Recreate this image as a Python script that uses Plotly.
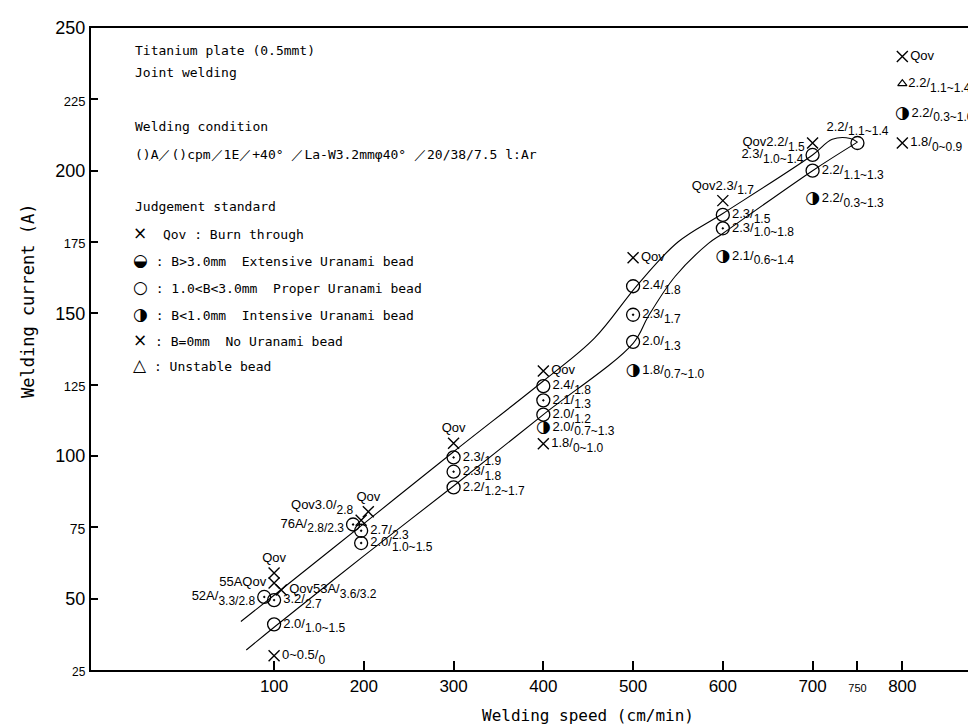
import plotly.graph_objects as go

# ---------------- data ----------------
# boundary curves (welding speed cm/min, welding current A)
upper_x = [63, 100, 200, 300, 400, 457, 505, 550, 600, 700, 722, 742, 750]
upper_y = [42, 51.2, 76.3, 101.5, 126.3, 141.3, 160, 175, 185, 205.5, 211, 211.3, 210]
lower_x = [69, 100, 200, 300, 400, 500, 517, 547, 584, 600, 700, 750]
lower_y = [32, 40, 65, 89.5, 114.5, 139.5, 149, 163, 174.5, 178, 200, 210]

# proper bead (circle with centre dot)
dot_x = [89, 100, 188, 197, 197, 300, 300, 400, 500, 600]
dot_y = [50.6, 49.5, 76, 73.8, 69.5, 99.5, 94.5, 119.5, 149.5, 179.8]
dot_lab = ["52A/3.3/2.8", "3.2/2.7", "76A/2.8/2.3", "2.7/2.3", "2.0/1.0~1.5",
           "2.3/1.9", "2.3/1.8", "2.1/1.3", "2.3/1.7", "2.3/1.0~1.8"]
dot_pos = ["middle left", "middle right", "middle left", "middle right", "middle right",
           "middle right", "middle right", "middle right", "middle right", "middle right"]

# proper bead (plain circle)
circ_x = [100, 300, 400, 400, 500, 500, 600, 700, 700, 750]
circ_y = [41, 89, 124.5, 114.5, 159.5, 140, 184.5, 205.5, 200, 209.7]
circ_lab = ["2.0/1.0~1.5", "2.2/1.2~1.7", "2.4/1.8", "2.0/1.2", "2.4/1.8",
            "2.0/1.3", "2.3/1.5", "2.3/1.0~1.4", "2.2/1.1~1.3", "2.2/1.1~1.4"]
circ_pos = ["middle right", "middle right", "middle right", "middle right", "middle right",
            "middle right", "middle right", "middle left", "middle right", "top center"]

# intensive bead (half filled)
half_x = [400, 500, 600, 700, 800]
half_y = [110, 130, 170, 190, 220]
half_lab = ["2.0/0.7~1.3", "1.8/0.7~1.0", "2.1/0.6~1.4", "2.2/0.3~1.3", "2.2/0.3~1.0"]

# burn through / no bead (X)
x_x = [100, 100, 100, 108, 197, 205, 300, 400, 400, 500, 600, 700, 800, 800]
x_y = [30, 59, 55.5, 53, 77.5, 80.5, 104.5, 129.8, 104.3, 169.5, 189.5, 209.7, 240, 209.7]
x_lab = ["0~0.5/0", "Qov", "55AQov", "Qov53A/3.6/3.2", "Qov3.0/2.8", "Qov", "Qov", "Qov",
         "1.8/0~1.0", "Qov", "Qov2.3/1.7", "Qov2.2/1.5", "Qov", "1.8/0~0.9"]
x_pos = ["middle right", "top center", "middle left", "middle right", "top left", "top center",
         "top center", "middle right", "middle right", "middle right", "top center",
         "middle left", "middle right", "middle right"]

# unstable bead
tri_x = [800]
tri_y = [230.5]
tri_lab = ["2.2/1.1~1.4"]

x_ticks = [100, 200, 300, 400, 500, 600, 700, 750, 800]
x_ticktext = ["100", "200", "300", "400", "500", "600", "700",
              "<span style='font-size:11px'>750</span>", "800"]
y_ticks = [25, 50, 75, 100, 125, 150, 175, 200, 225, 250]
y_ticktext = ["<span style='font-size:12px'>25</span>", "50", "<span style='font-size:14px'>75</span>", "100",
              "<span style='font-size:13px'>125</span>", "150", "<span style='font-size:13px'>175</span>",
              "200", "<span style='font-size:13px'>225</span>", "250"]

info_lines = ["Titanium plate (0.5mmt)", "Joint welding", "Welding condition",
              "()A／()cpm／1E／+40° ／La-W3.2mmφ40° ／20/38/7.5 l:Ar",
              "Judgement standard"]
info_ypx = [43, 65, 118, 147, 198]
legend_sym = ["×", "◒", "○", "◑", "×", "△"]
legend_txt = ["  Qov : Burn through",
              " : B&gt;3.0mm  Extensive Uranami bead",
              " : 1.0&lt;B&lt;3.0mm  Proper Uranami bead",
              " : B&lt;1.0mm  Intensive Uranami bead",
              " : B=0mm  No Uranami bead",
              " : Unstable bead"]
legend_ypx = [225, 252, 279, 306, 332, 357]

# ---------------- figure ----------------
W, H = 976, 724
L, R, T, B = 83, 0, 20, 62
PW, PH = W - L - R, H - T - B


def px(xp):
    return (xp - L) / PW


def py(yp):
    return (H - B - yp) / PH


def frac(s):
    # render "a/b" with the part after the first slash lowered, like the hand lettering
    if "/" not in s:
        return s
    a, b = s.split("/", 1)
    return a + "/<sub><sub><span style='font-size:12px'>" + b + "</span></sub></sub>"


LABFONT = dict(family="Liberation Sans, Arial, sans-serif", size=13, color="black")
MONO = "DejaVu Sans Mono, monospace"

fig = go.Figure()
for xs, ys in [(upper_x, upper_y), (lower_x, lower_y)]:
    fig.add_trace(go.Scatter(x=xs, y=ys, mode="lines",
                             line=dict(color="black", width=1.1, shape="spline", smoothing=1.0),
                             hoverinfo="skip", showlegend=False))

common = dict(showlegend=False, cliponaxis=False, textfont=LABFONT)
fig.add_trace(go.Scatter(x=dot_x, y=dot_y, mode="markers+text", text=[frac(s) for s in dot_lab],
                         textposition=dot_pos, **common,
                         marker=dict(symbol="circle-open-dot", size=13, color="black", line=dict(width=1.3))))
fig.add_trace(go.Scatter(x=circ_x, y=circ_y, mode="markers+text", text=[frac(s) for s in circ_lab],
                         textposition=circ_pos, **common,
                         marker=dict(symbol="circle-open", size=13, color="black", line=dict(width=1.3))))
fig.add_trace(go.Scatter(x=half_x, y=half_y, mode="markers+text", text=[frac(s) for s in half_lab],
                         textposition="middle right", **common,
                         marker=dict(symbol="circle", size=13, color="rgba(0,0,0,0)")))
fig.add_trace(go.Scatter(x=half_x, y=half_y, mode="text", text=["◑"] * len(half_x), textposition="middle center",
                         textfont=dict(family="DejaVu Sans", size=17, color="black"), showlegend=False,
                         cliponaxis=False))
fig.add_trace(go.Scatter(x=x_x, y=x_y, mode="markers+text", text=[frac(s) for s in x_lab],
                         textposition=x_pos, **common,
                         marker=dict(symbol="x-thin-open", size=11, color="black",
                                     line=dict(width=1.4, color="black"))))
fig.add_trace(go.Scatter(x=tri_x, y=tri_y, mode="markers+text", text=[frac(s) for s in tri_lab],
                         textposition="middle right", **common,
                         marker=dict(symbol="triangle-up-open", size=8, color="black", line=dict(width=1.2))))

for txt, yp in zip(info_lines, info_ypx):
    fig.add_annotation(x=px(125), y=py(yp), xref="paper", yref="paper", text=txt, showarrow=False,
                       xanchor="left", yanchor="middle", font=dict(family=MONO, size=13, color="black"))
for sym, txt, yp in zip(legend_sym, legend_txt, legend_ypx):
    fig.add_annotation(x=px(123), y=py(yp), xref="paper", yref="paper",
                       text="<span style='font-family:DejaVu Sans;font-size:17px'>" + sym + "</span>" + txt,
                       showarrow=False, xanchor="left", yanchor="middle",
                       font=dict(family=MONO, size=13, color="black"))

fig.add_annotation(x=px(580), y=py(707), xref="paper", yref="paper", text="Welding speed (cm/min)",
                   showarrow=False, xanchor="center", yanchor="middle",
                   font=dict(family=MONO, size=16, color="black"))
fig.add_annotation(x=px(20), y=py(293), xref="paper", yref="paper", text="Welding current (A)",
                   showarrow=False, xanchor="center", yanchor="middle", textangle=-90,
                   font=dict(family=MONO, size=17, color="black"))

fig.update_xaxes(range=[-104, 891], tickvals=x_ticks, ticktext=x_ticktext, ticks="inside", ticklen=9,
                 tickwidth=1.5, tickcolor="black", showline=True, linewidth=2, linecolor="black", mirror=True,
                 showgrid=False, zeroline=False,
                 tickfont=dict(family="Liberation Sans, Arial, sans-serif", size=17, color="black"))
fig.update_yaxes(range=[25, 250], tickvals=y_ticks, ticktext=y_ticktext, ticks="inside", ticklen=7,
                 tickwidth=1.5, tickcolor="black", showline=True, linewidth=2, linecolor="black",
                 showgrid=False, zeroline=False,
                 tickfont=dict(family="Liberation Sans, Arial, sans-serif", size=18, color="black"))
fig.update_layout(width=W, height=H, margin=dict(l=L, r=R, t=T, b=B), plot_bgcolor="white",
                  paper_bgcolor="white", showlegend=False)

fig.write_html("out.html")
